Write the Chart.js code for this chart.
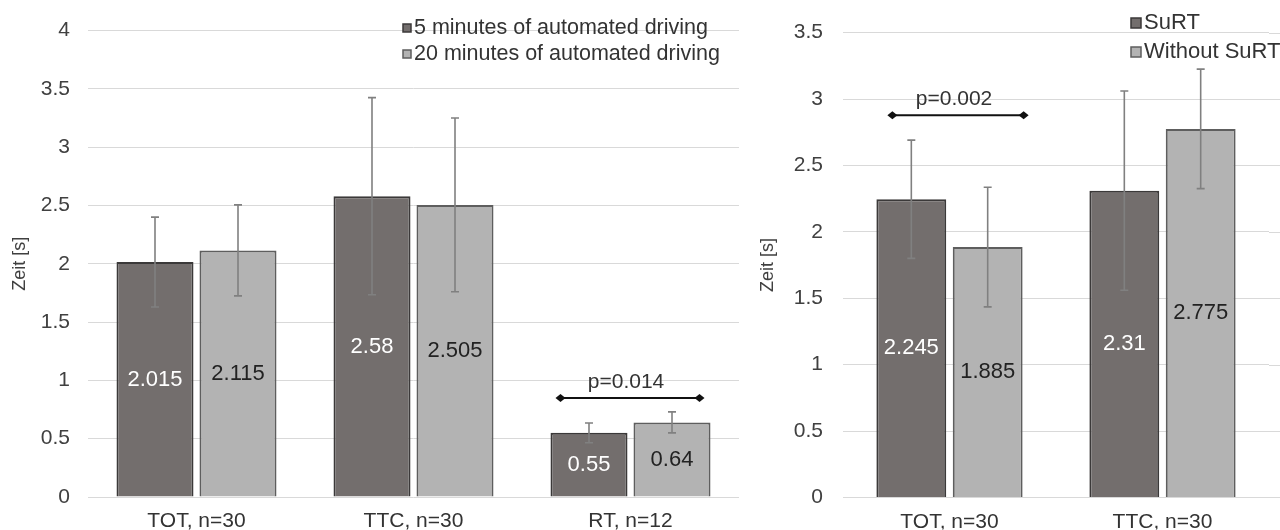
<!DOCTYPE html>
<html>
<head>
<meta charset="utf-8">
<title>Zeit [s]</title>
<script src="https://cdn.jsdelivr.net/npm/chart.js@4.4.1/dist/chart.umd.min.js"></script>
<style>
  html, body { margin: 0; padding: 0; background: #fff; overflow: hidden; }
  #left { position: absolute; left: 0; top: 0; }
  #right { position: absolute; left: 750px; top: 0; }
</style>
</head>
<body>
<canvas id="left" width="750" height="530"></canvas>
<canvas id="right" width="530" height="530"></canvas>
<script>
// left chart: duration of automated driving
const leftCategories = ['TOT, n=30', 'TTC, n=30', 'RT, n=12'];
const leftSeries = ['5 minutes of automated driving', '20 minutes of automated driving'];
const left5min = [2.015, 2.58, 0.55];
const left20min = [2.115, 2.505, 0.64];
const left5minErr = [0.385, 0.845, 0.085];
const left20minErr = [0.39, 0.745, 0.09];
const leftTicks = [0, 0.5, 1, 1.5, 2, 2.5, 3, 3.5, 4];
const leftSig = { category: 2, y: 0.85, text: 'p=0.014' };

// right chart: with / without SuRT
const rightCategories = ['TOT, n=30', 'TTC, n=30'];
const rightSeries = ['SuRT', 'Without SuRT'];
const rightSurt = [2.245, 2.31];
const rightNoSurt = [1.885, 2.775];
const rightSurtErr = [0.445, 0.75];
const rightNoSurtErr = [0.45, 0.45];
const rightTicks = [0, 0.5, 1, 1.5, 2, 2.5, 3, 3.5];
const rightSig = { category: 0, y: 2.877, text: 'p=0.002' };

const FONT = '"Liberation Sans", Arial, sans-serif';
const DARK = '#736e6d', DARK_BORDER = '#3b3939';
const LIGHT = '#b3b3b3', LIGHT_BORDER = '#5e5e5e';
const GRID = '#d9d9d9';

Chart.defaults.font.family = FONT;
Chart.defaults.color = '#404040';

const errorBars = {
  id: 'errorBars',
  afterDatasetsDraw(chart) {
    const ctx = chart.ctx;
    const y = chart.scales.y;
    ctx.save();
    ctx.strokeStyle = '#808080';
    ctx.lineWidth = 1.6;
    chart.data.datasets.forEach((ds, di) => {
      chart.getDatasetMeta(di).data.forEach((bar, i) => {
        const top = y.getPixelForValue(ds.data[i] + ds.errors[i]);
        const bot = y.getPixelForValue(ds.data[i] - ds.errors[i]);
        ctx.beginPath();
        ctx.moveTo(bar.x, top); ctx.lineTo(bar.x, bot);
        ctx.moveTo(bar.x - 4, top); ctx.lineTo(bar.x + 4, top);
        ctx.moveTo(bar.x - 4, bot); ctx.lineTo(bar.x + 4, bot);
        ctx.stroke();
      });
    });
    ctx.restore();
  }
};

const valueLabels = {
  id: 'valueLabels',
  afterDatasetsDraw(chart) {
    const ctx = chart.ctx;
    const y = chart.scales.y;
    ctx.save();
    ctx.font = '22px ' + FONT;
    ctx.textAlign = 'center';
    ctx.textBaseline = 'middle';
    chart.data.datasets.forEach((ds, di) => {
      ctx.fillStyle = ds.labelColor;
      chart.getDatasetMeta(di).data.forEach((bar, i) => {
        ctx.fillText(String(ds.data[i]), bar.x, y.getPixelForValue(ds.data[i] / 2));
      });
    });
    ctx.restore();
  }
};

const sigBracket = {
  id: 'sigBracket',
  afterDatasetsDraw(chart, args, opts) {
    const s = opts.sig;
    const a = chart.getDatasetMeta(0).data[s.category];
    const b = chart.getDatasetMeta(1).data[s.category];
    const x0 = a.x - a.width / 2 + opts.startInset;
    const x1 = b.x + b.width / 2 + opts.endInset;
    const yy = chart.scales.y.getPixelForValue(s.y);
    const ctx = chart.ctx;
    ctx.save();
    ctx.strokeStyle = '#111';
    ctx.fillStyle = '#111';
    ctx.lineWidth = 2;
    ctx.beginPath();
    ctx.moveTo(x0, yy); ctx.lineTo(x1, yy);
    ctx.stroke();
    [x0, x1].forEach(x => {
      ctx.beginPath();
      ctx.moveTo(x - 5, yy); ctx.lineTo(x, yy - 4); ctx.lineTo(x + 5, yy); ctx.lineTo(x, yy + 4);
      ctx.closePath();
      ctx.fill();
    });
    ctx.fillStyle = '#333';
    ctx.font = '21px ' + FONT;
    ctx.textAlign = 'center';
    ctx.textBaseline = 'alphabetic';
    ctx.fillText(s.text, (x0 + x1) / 2 - 4, yy - 10);
    ctx.restore();
  }
};

const boxLegend = {
  id: 'boxLegend',
  afterDraw(chart, args, opts) {
    const ctx = chart.ctx;
    ctx.save();
    ctx.font = opts.size + 'px ' + FONT;
    ctx.textAlign = 'left';
    ctx.textBaseline = 'middle';
    chart.data.datasets.forEach((ds, i) => {
      const cy = opts.y + i * opts.step;
      ctx.fillStyle = ds.backgroundColor;
      ctx.strokeStyle = ds.borderColor;
      ctx.lineWidth = 1.5;
      ctx.fillRect(opts.x, cy - opts.box / 2, opts.box, opts.box);
      ctx.strokeRect(opts.x, cy - opts.box / 2, opts.box, opts.box);
      ctx.fillStyle = '#333';
      ctx.fillText(ds.label, opts.x + opts.box + 3, cy);
    });
    ctx.restore();
  }
};

// gridlines keep running to the edge of the picture on the right chart
const gridToEdge = {
  id: 'gridToEdge',
  beforeDatasetsDraw(chart, args, opts) {
    if (!opts.on) return;
    const ctx = chart.ctx;
    const y = chart.scales.y;
    ctx.save();
    ctx.strokeStyle = GRID;
    ctx.lineWidth = 1;
    y.ticks.forEach(t => {
      const py = Math.round(y.getPixelForValue(t.value)) + 0.5;
      ctx.beginPath();
      ctx.moveTo(chart.chartArea.right, py);
      ctx.lineTo(chart.width, py);
      ctx.stroke();
    });
    ctx.restore();
  }
};

function drawChart(id, categories, names, a, b, aErr, bErr, ticks, sig, look) {
  const ctx = document.getElementById(id).getContext('2d');
  return new Chart(ctx, {
    type: 'bar',
    data: {
      labels: categories,
      datasets: [{
        label: names[0],
        data: a,
        errors: aErr,
        backgroundColor: DARK,
        borderColor: DARK_BORDER,
        borderWidth: 2,
        labelColor: '#ffffff',
        categoryPercentage: look.catPct,
        barPercentage: look.barPct
      }, {
        label: names[1],
        data: b,
        errors: bErr,
        backgroundColor: LIGHT,
        borderColor: LIGHT_BORDER,
        borderWidth: 2,
        labelColor: '#222222',
        categoryPercentage: look.catPct,
        barPercentage: look.barPct
      }]
    },
    options: {
      responsive: false,
      animation: false,
      layout: { padding: { top: look.top, right: look.right, left: 0, bottom: 0 } },
      scales: {
        x: {
          grid: { display: false },
          border: { display: false },
          ticks: { font: { size: 21 }, color: '#333', padding: 4 },
          afterFit(scale) { scale.height = 530 - look.bottom; }
        },
        y: {
          min: ticks[0],
          max: ticks[ticks.length - 1],
          afterBuildTicks(scale) { scale.ticks = ticks.map(v => ({ value: v })); },
          grid: { color: GRID, drawTicks: false },
          border: { display: false },
          ticks: { font: { size: 21 }, color: '#404040', padding: look.tickPad, callback: v => String(v) },
          title: { display: true, text: 'Zeit [s]', font: { size: 18 }, color: '#404040', padding: { top: look.titlePad } },
          afterFit(scale) { scale.width = look.axisWidth; }
        }
      },
      plugins: {
        legend: { display: false },
        tooltip: { enabled: false },
        sigBracket: { sig: sig, startInset: look.startInset, endInset: look.endInset },
        boxLegend: look.legend,
        gridToEdge: { on: look.gridToEdge }
      }
    },
    plugins: [gridToEdge, errorBars, valueLabels, sigBracket, boxLegend]
  });
}

drawChart('left', leftCategories, leftSeries, left5min, left20min, left5minErr, left20minErr, leftTicks, leftSig, {
  catPct: 0.765, barPct: 0.928, top: 29, right: 11, bottom: 497,
  axisWidth: 88, tickPad: 18, titlePad: 9,
  startInset: 10, endInset: -11,
  legend: { x: 403, y: 28, step: 26, box: 8, size: 21.5 },
  gridToEdge: false
});

drawChart('right', rightCategories, rightSeries, rightSurt, rightNoSurt, rightSurtErr, rightNoSurtErr, rightTicks, rightSig, {
  catPct: 0.717, barPct: 0.915, top: 25, right: 11, bottom: 498,
  axisWidth: 93, tickPad: 20, titlePad: 7,
  startInset: 16, endInset: 1,
  legend: { x: 381, y: 23, step: 29, box: 10, size: 22 },
  gridToEdge: true
});
</script>
</body>
</html>
